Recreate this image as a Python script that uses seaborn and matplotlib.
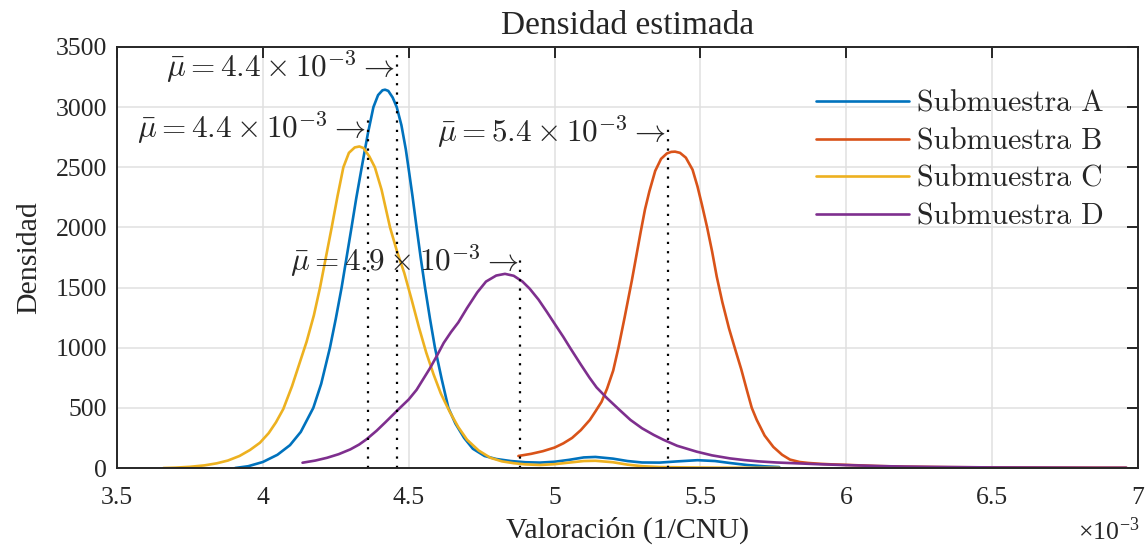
import matplotlib
matplotlib.use("Agg")
import matplotlib.pyplot as plt
import numpy as np
import pandas as pd
import seaborn as sns

# Valoración in units of 1e-3 (the axis shows x10^-3), density
x_a = [3.905, 3.95, 4.00, 4.05, 4.093, 4.13, 4.173, 4.20, 4.230, 4.25, 4.270, 4.287, 4.304,
       4.32, 4.339, 4.36, 4.379, 4.395, 4.41, 4.419, 4.43, 4.445, 4.459, 4.475, 4.49, 4.499,
       4.513, 4.527, 4.541, 4.556, 4.573, 4.590, 4.613, 4.636, 4.66, 4.69, 4.72, 4.76, 4.80,
       4.85, 4.90, 4.95, 5.00, 5.05, 5.10, 5.14, 5.20, 5.25, 5.30, 5.36, 5.42, 5.49, 5.55,
       5.60, 5.66, 5.72, 5.77]
y_a = [0, 15, 50, 110, 190, 300, 500, 700, 1000, 1240, 1500, 1750, 2000,
       2240, 2500, 2780, 3000, 3100, 3140, 3145, 3135, 3080, 3000, 2850, 2650, 2500,
       2260, 2000, 1750, 1500, 1240, 1000, 740, 500, 370, 250, 160, 100, 75,
       58, 48, 45, 52, 68, 88, 92, 78, 58, 46, 45, 55, 65, 58,
       42, 25, 14, 8]

x_b = [4.876, 4.92, 4.96, 5.00, 5.03, 5.06, 5.09, 5.121, 5.14, 5.161, 5.18, 5.201, 5.219,
       5.24, 5.265, 5.28, 5.295, 5.31, 5.325, 5.345, 5.365, 5.385, 5.40, 5.413, 5.43, 5.45,
       5.473, 5.49, 5.505, 5.523, 5.54, 5.556, 5.575, 5.598, 5.620, 5.640, 5.66, 5.676, 5.693,
       5.72, 5.75, 5.78, 5.807, 5.84, 5.87, 5.91, 5.944, 6.013, 6.1, 6.2, 6.35, 6.5, 6.7, 6.96]
y_b = [100, 118, 140, 170, 205, 250, 315, 400, 470, 550, 660, 810, 1000,
       1250, 1560, 1760, 1960, 2150, 2300, 2470, 2570, 2615, 2628, 2630, 2620, 2580,
       2480, 2340, 2190, 2000, 1800, 1590, 1380, 1160, 980, 820, 640, 500, 400,
       270, 175, 110, 70, 50, 42, 35, 31, 25, 17, 11, 7, 5, 3, 2]

x_c = [3.659, 3.70, 3.75, 3.80, 3.842, 3.88, 3.92, 3.956, 3.99, 4.02, 4.045, 4.070, 4.10,
       4.127, 4.150, 4.175, 4.196, 4.216, 4.236, 4.256, 4.276, 4.295, 4.315, 4.331, 4.345,
       4.365, 4.384, 4.407, 4.436, 4.46, 4.485, 4.51, 4.535, 4.56, 4.585, 4.61, 4.64, 4.67,
       4.70, 4.74, 4.78, 4.82, 4.86, 4.90, 4.95, 5.00, 5.05, 5.10, 5.14, 5.20, 5.25, 5.30,
       5.36, 5.45, 5.55, 5.66, 5.77]
y_c = [0, 3, 10, 22, 39, 62, 100, 150, 210, 290, 380, 490, 680,
       880, 1050, 1270, 1500, 1750, 2000, 2260, 2500, 2620, 2665, 2673, 2660,
       2590, 2500, 2313, 2000, 1800, 1620, 1400, 1170, 960, 780, 620, 470, 340,
       235, 145, 85, 55, 40, 30, 25, 32, 45, 58, 60, 48, 28, 15,
       8, 5, 3, 2, 2]

x_d = [4.136, 4.18, 4.22, 4.26, 4.30, 4.33, 4.356, 4.39, 4.42, 4.445, 4.470, 4.50, 4.527,
       4.55, 4.573, 4.596, 4.62, 4.645, 4.67, 4.70, 4.735, 4.765, 4.80, 4.830, 4.86, 4.89,
       4.915, 4.945, 4.973, 5.00, 5.03, 5.053, 5.09, 5.12, 5.144, 5.18, 5.224, 5.26, 5.30,
       5.34, 5.373, 5.42, 5.487, 5.54, 5.601, 5.65, 5.70, 5.76, 5.83, 5.90, 6.0, 6.116, 6.2,
       6.3, 6.4, 6.5, 6.62, 6.75, 6.85, 6.96]
y_d = [44, 62, 85, 115, 155, 195, 240, 310, 380, 440, 500, 570, 650,
       740, 830, 930, 1040, 1130, 1210, 1330, 1460, 1550, 1600, 1614, 1598, 1550,
       1490, 1400, 1300, 1200, 1090, 1000, 860, 750, 670, 580, 480, 400, 330,
       275, 235, 185, 136, 105, 80, 66, 55, 46, 39, 32, 24, 16, 12,
       9, 7, 5, 4, 3, 2, 2]

groups = ["Submuestra A", "Submuestra B", "Submuestra C", "Submuestra D"]
colors = ["#0072BD", "#D95319", "#EDB120", "#7E2F8E"]

# mean markers: x position, dotted line height, label value, label baseline
mean_x = [4.459, 4.360, 4.882, 5.388]
mean_top = [3460, 2940, 1750, 2870]
mean_text = ["4.4", "4.4", "4.9", "5.4"]
label_y = [3242, 2734, 1633, 2701]

df = pd.concat([
    pd.DataFrame({"x": xs, "y": ys, "grupo": g})
    for xs, ys, g in zip([x_a, x_b, x_c, x_d], [y_a, y_b, y_c, y_d], groups)
])

sns.set_theme(style="white")
plt.rcParams["font.family"] = ["Liberation Serif", "DejaVu Serif"]
plt.rcParams["mathtext.fontset"] = "cm"

fig = plt.figure(figsize=(11.48, 5.47), dpi=100)
ax = fig.add_axes([0.1019, 0.1444, 0.8894, 0.7697])

sns.lineplot(data=df, x="x", y="y", hue="grupo", palette=colors, estimator=None,
             sort=False, linewidth=1.9, ax=ax)

for mx, top, txt, ly in zip(mean_x, mean_top, mean_text, label_y):
    ax.plot([mx, mx], [0, top], color="black", linestyle=(0, (1, 3.2)), linewidth=1.6)
    ax.text(mx - 0.006, ly, r"$\bar{\mu} = %s \times 10^{-3} \rightarrow$" % txt,
            ha="right", va="baseline", fontsize=22.5)

ax.set_xlim(3.5, 7)
ax.set_ylim(0, 3500)
ax.set_xticks(np.arange(3.5, 7.01, 0.5))
ax.set_xticklabels(["3.5", "4", "4.5", "5", "5.5", "6", "6.5", "7"])
ax.set_yticks(np.arange(0, 3501, 500))
ax.grid(True, color="#e0e0e0", linewidth=1.1)
for s in ax.spines.values():
    s.set_color("#262626")
    s.set_linewidth(1.4)
ax.tick_params(direction="in", length=8, width=1.4, color="#262626", top=True, right=True,
               labelsize=18.5, labelcolor="#262626")
ax.tick_params(axis="x", pad=14)
ax.tick_params(axis="y", pad=7)

ax.set_title("Densidad estimada", fontsize=24, pad=9)
ax.set_xlabel("Valoración (1/CNU)", fontsize=21.5, labelpad=5)
ax.set_ylabel("Densidad", fontsize=21.5, labelpad=10)
fig.text(0.993, 0.004, r"×10$^{\mathregular{-3}}$", ha="right", va="bottom", fontsize=18.5,
         color="#262626")

leg = ax.legend(loc="upper left", bbox_to_anchor=(0.685, 0.897), frameon=False,
                prop={"family": "cmr10", "size": 21.5}, handlelength=3.1, handletextpad=0.27,
                labelspacing=0.34, borderpad=0, borderaxespad=0)
for line in leg.get_lines():
    line.set_linewidth(1.9)

fig.savefig("out.png", dpi=100)
